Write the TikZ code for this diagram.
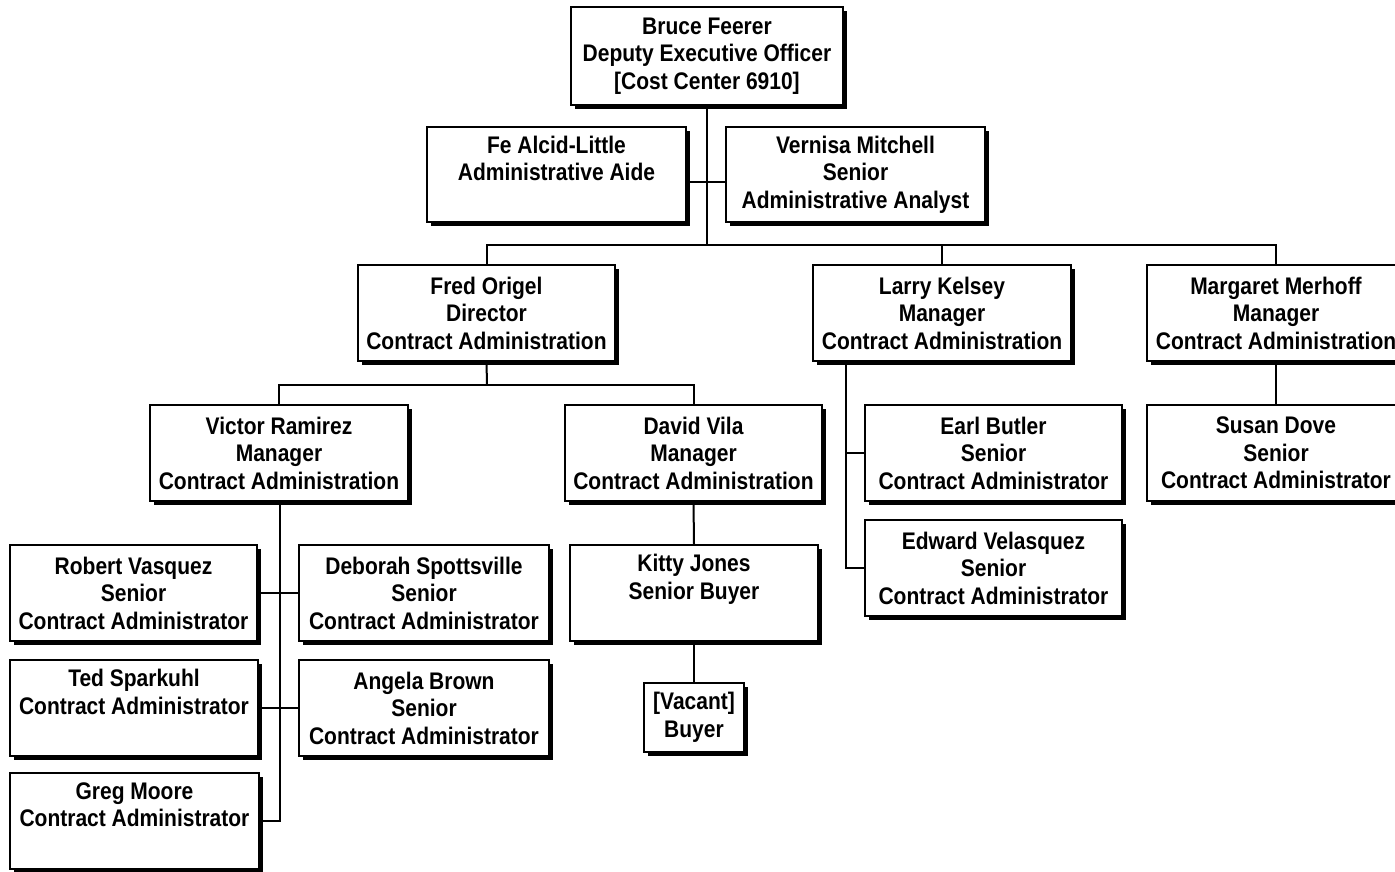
\documentclass[tikz,border=0pt]{standalone}
\usepackage{fontspec}
\newfontfamily\orgfont{Liberation Sans Bold}[FakeStretch=0.875]
\usetikzlibrary{shadows}
\tikzset{
  orgbox/.style={draw=black, fill=white, line width=1.4pt, inner sep=0pt,
    align=center, font=\orgfont\fontsize{24}{27.5}\selectfont,
    drop shadow={shadow xshift=4pt, shadow yshift=-4pt, fill=black, opacity=1}},
  conn/.style={draw=black, line width=2pt}
}
\newcommand\obox[6]{\node[orgbox, minimum width={(#4-#2)*1pt}, minimum height={(#5-#3)*1pt}] (#1) at ({(#2+#4)/2},{(#3+#5)/2}) {#6};}
\begin{document}
\begin{tikzpicture}[x=1pt, y=-1pt]
\useasboundingbox[fill=white] (0,0) rectangle (1395,872);
% boxes
\obox{bruce}{571}{7}{843}{105}{Bruce Feerer\\Deputy Executive Officer\\{[}Cost Center 6910{]}}
\obox{fe}{427}{127}{686}{222}{Fe Alcid-Little\\Administrative Aide\\\vphantom{g}}
\obox{vern}{726}{127}{985}{222}{Vernisa Mitchell\\Senior\\Administrative Analyst}
\obox{fred}{358}{265}{615}{361}{Fred Origel\\Director\\Contract Administration}
\obox{larry}{813}{265}{1071}{361}{Larry Kelsey\\Manager\\Contract Administration}
\obox{marg}{1147}{265}{1405}{361}{Margaret Merhoff\\Manager\\Contract Administration}
\obox{vic}{150}{405}{408}{501}{Victor Ramirez\\Manager\\Contract Administration}
\obox{dav}{565}{405}{822}{501}{David Vila\\Manager\\Contract Administration}
\obox{earl}{865}{405}{1122}{501}{Earl Butler\\Senior\\Contract Administrator}
\obox{susan}{1147}{405}{1405}{501}{Susan Dove\\Senior\\Contract Administrator}
\obox{edw}{865}{520}{1122}{616}{Edward Velasquez\\Senior\\Contract Administrator}
\obox{rob}{10}{545}{257}{641}{Robert Vasquez\\Senior\\Contract Administrator}
\obox{deb}{299}{545}{549}{641}{Deborah Spottsville\\Senior\\Contract Administrator}
\obox{kit}{570}{545}{818}{641}{Kitty Jones\\Senior Buyer\\\vphantom{g}}
\obox{ted}{10}{660}{258}{756}{Ted Sparkuhl\\Contract Administrator\\\vphantom{g}}
\obox{ang}{299}{660}{549}{756}{Angela Brown\\Senior\\Contract Administrator}
\obox{vac}{644}{683}{744}{752}{{[}Vacant{]}\\Buyer}
\obox{greg}{10}{773}{259}{869}{Greg Moore\\Contract Administrator\\\vphantom{g}}
% junctions
\coordinate (bus) at (707,245);
\coordinate (fb) at (487,385);
\coordinate (lt) at (846,361);
\coordinate (vt) at (280,501);
% connectors
\draw[conn] (bruce.south) -- (bus);
\draw[conn] ([yshift=-7pt]fe.east) -- ([yshift=-7pt]vern.west);
\draw[conn] (fred.north) |- (marg.north |- bus) -- (marg.north);
\draw[conn] (larry.north |- bus) -- (larry.north);
\draw[conn] (fred.south) -- (fb);
\draw[conn] (vic.north) |- (fb) -| (dav.north);
\draw[conn] (marg.south) -- (susan.north);
\draw[conn] (lt) |- (edw.west);
\draw[conn] (lt |- earl.west) -- (earl.west);
\draw[conn] (vt) |- (greg.east);
\draw[conn] (rob.east) -- (deb.west);
\draw[conn] (ted.east) -- (ang.west);
\draw[conn] (dav.south) -- (kit.north);
\draw[conn] (kit.south) -- (vac.north);
\end{tikzpicture}
\end{document}
